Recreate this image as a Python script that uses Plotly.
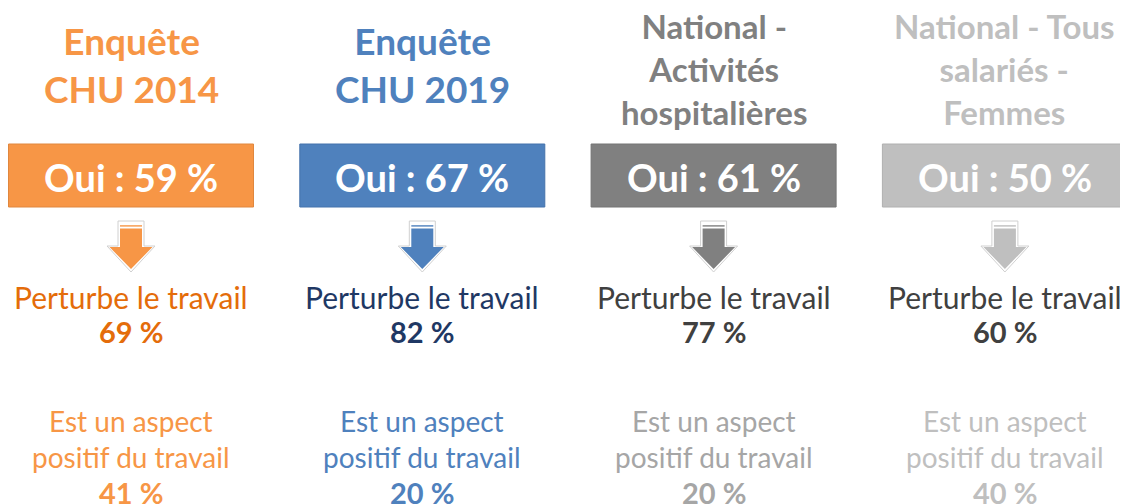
import plotly.graph_objects as go

# ---- data ----
titles = ["Enquête<br>CHU 2014", "Enquête<br>CHU 2019",
          "National -<br>Activités<br>hospitalières",
          "National - Tous<br>salariés -<br>Femmes"]
oui = [59, 67, 61, 50]
perturbe = [69, 82, 77, 60]
positif = [41, 20, 20, 40]

main_colors = ["#F79646", "#4F81BD", "#808080", "#BFBFBF"]
border_colors = ["#E0873E", "#4573AC", "#747474", "#B0B0B0"]
perturbe_colors = ["#E46C0A", "#1F3864", "#404040", "#404040"]
positif_colors = ["#F79646", "#4F81BD", "#A6A6A6", "#BFBFBF"]
title_sizes = [37, 37, 33, 33]
title_y = [64.5, 64.5, 68.5, 68.5]

FONT = "Lato"
W, H = 1128, 504
OFF = 8  # page body margin
centers = [131 + 291.3 * i for i in range(4)]

fig = go.Figure()
shapes = []
annotations = []

for i, cx in enumerate(centers):
    col = main_colors[i]
    # title
    annotations.append(dict(x=cx, y=title_y[i], text="<b>%s</b>" % titles[i],
                            font=dict(family=FONT, size=title_sizes[i], color=col),
                            showarrow=False, xanchor="center", yanchor="middle"))
    # box
    shapes.append(dict(type="rect", x0=cx - 122.5, x1=cx + 122.5, y0=144, y1=207,
                       fillcolor=col, line=dict(color=border_colors[i], width=1),
                       xref="x", yref="y", layer="below"))
    annotations.append(dict(x=cx, y=176.5, text="<b>Oui : %d %%</b>" % oui[i],
                            font=dict(family=FONT, size=38, color="white"),
                            showarrow=False, xanchor="center", yanchor="middle"))
    # arrow: white outline + grey shadow
    outline = "M %f 221 L %f 221 L %f 246 L %f 246 L %f 272 L %f 246 L %f 246 L %f 221 Z" % (
        cx - 13, cx + 13, cx + 13, cx + 24, cx, cx - 24, cx - 13, cx - 13)
    shapes.append(dict(type="path", path=outline, fillcolor="white",
                       line=dict(color="#D0D0D0", width=1), xref="x", yref="y"))
    body = "M %f 228.5 L %f 228.5 L %f 247 L %f 247 L %f 269 L %f 247 L %f 247 L %f 228.5 Z" % (
        cx - 11, cx + 11, cx + 11, cx + 21.5, cx, cx - 21.5, cx - 11, cx - 11)
    shapes.append(dict(type="path", path=body, fillcolor=col,
                       line=dict(width=0), xref="x", yref="y"))
    shapes.append(dict(type="rect", x0=cx - 11, x1=cx + 11, y0=225.2, y1=226.6,
                       fillcolor=col, line=dict(width=0), xref="x", yref="y"))
    # perturbe
    annotations.append(dict(x=cx, y=297, text="Perturbe le travail",
                            font=dict(family=FONT, size=30, color=perturbe_colors[i]),
                            showarrow=False, xanchor="center", yanchor="middle"))
    annotations.append(dict(x=cx, y=331, text="<b>%d %%</b>" % perturbe[i],
                            font=dict(family=FONT, size=29, color=perturbe_colors[i]),
                            showarrow=False, xanchor="center", yanchor="middle"))
    # positif
    annotations.append(dict(x=cx, y=439, text="Est un aspect<br>positif du travail",
                            font=dict(family=FONT, size=28, color=positif_colors[i]),
                            showarrow=False, xanchor="center", yanchor="middle"))
    annotations.append(dict(x=cx, y=492, text="<b>%d %%</b>" % positif[i],
                            font=dict(family=FONT, size=29, color=positif_colors[i]),
                            showarrow=False, xanchor="center", yanchor="middle"))

fig.update_layout(
    width=W, height=H,
    margin=dict(l=0, r=0, t=0, b=0),
    paper_bgcolor="white", plot_bgcolor="white",
    xaxis=dict(range=[OFF, W + OFF], visible=False, fixedrange=True),
    yaxis=dict(range=[H + OFF, OFF], visible=False, fixedrange=True),
    shapes=shapes, annotations=annotations, showlegend=False,
)
fig.write_html("out.html")
